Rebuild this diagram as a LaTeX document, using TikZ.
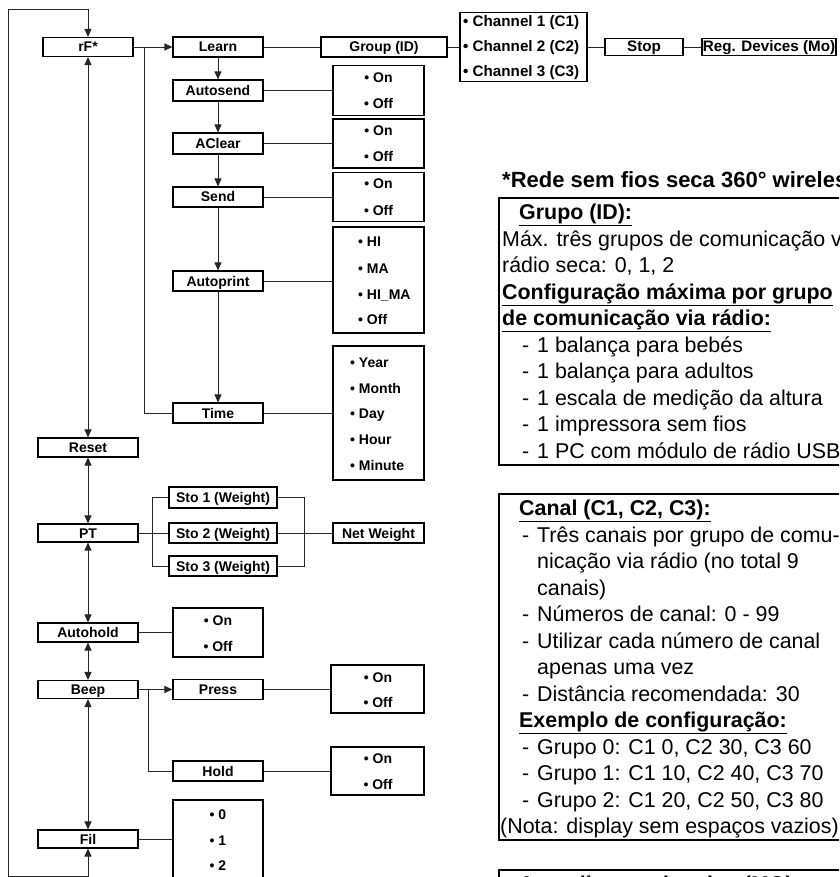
\documentclass[tikz,border=0pt]{standalone}
\usepackage{fontspec}
\setmainfont{Liberation Sans}
\usetikzlibrary{arrows.meta}
\tikzset{
  lbl/.style={font=\fontsize{14}{16}\selectfont\bfseries},
  lblb/.style={font=\fontsize{15.2}{17}\selectfont\bfseries},
  box/.style={draw, line width=1.1pt, inner sep=0pt, lbl, text height=10pt, text depth=0pt},
  optbox/.style={draw, line width=1.1pt, inner sep=0pt},
  opt/.style={lbl, inner sep=0pt, text height=10pt, text depth=0pt},
  optl/.style={opt, anchor=west},
  conn/.style={line width=0.9pt, black!85},
  arr/.style={conn, -{Triangle[length=8pt,width=7pt]}},
  darr/.style={conn, {Triangle[length=8pt,width=7pt]}-{Triangle[length=8pt,width=7pt]}},
  rt/.style={anchor=base west, inner sep=0pt, font=\fontsize{21.4}{25}\selectfont},
  rth/.style={rt, font=\fontsize{21.4}{25}\selectfont\bfseries},
  panel/.style={draw, line width=2pt}
}
\begin{document}
\begin{tikzpicture}[x=1pt, y=-1pt]
\path[use as bounding box] (0,0) rectangle (839,877);
\clip (0,0) rectangle (839,877);

% ---- top row ----
\node[box, minimum width=90pt, minimum height=19pt] (rf) at (88,47) {rF*};
\node[box, minimum width=90pt, minimum height=20pt] (learn) at (218,47) {Learn};
\node[box, minimum width=126pt, minimum height=20pt] (group) at (384,47) {Group (ID)};
\node[optbox, minimum width=127pt, minimum height=69pt] (chan) at (523.5,47) {};
\node[optl, lblb] (c1) at (463,22) {• Channel 1 (C1)};
\node[optl, lblb] (c2) at (463,47) {• Channel 2 (C2)};
\node[optl, lblb] (c3) at (463,72) {• Channel 3 (C3)};
\node[box, lblb, minimum width=78pt, minimum height=17pt] (stop) at (644,47) {Stop};
\node[box, lblb, minimum width=134pt, minimum height=17pt] (reg) at (769,47) {Reg. Devices (Mo)};

% ---- rF sub menu ----
\node[box, minimum width=90pt, minimum height=21pt] (autosend) at (218,90.5) {Autosend};
\node[box, minimum width=90pt, minimum height=21pt] (aclear) at (218,143.5) {AClear};
\node[box, minimum width=90pt, minimum height=20pt] (send) at (218,197) {Send};
\node[box, minimum width=90pt, minimum height=20pt] (autoprint) at (218,281) {Autoprint};
\node[box, minimum width=90pt, minimum height=20pt] (time) at (218,413) {Time};

\node[optbox, minimum width=91pt, minimum height=50pt] (oas) at (378.5,90.5) {};
\node[opt] (oas1) at (378.5,78) {• On};
\node[opt] (oas2) at (378.5,104) {• Off};
\node[optbox, minimum width=91pt, minimum height=49pt] (oac) at (378.5,143.5) {};
\node[opt] (oac1) at (378.5,131) {• On};
\node[opt] (oac2) at (378.5,157) {• Off};
\node[optbox, minimum width=91pt, minimum height=49pt] (ose) at (378.5,197) {};
\node[opt] (ose1) at (378.5,184) {• On};
\node[opt] (ose2) at (378.5,210) {• Off};
\node[optbox, minimum width=91pt, minimum height=106pt] (oap) at (378.5,280) {};
\node[optl] (oap1) at (358,242) {• HI};
\node[optl] (oap2) at (358,268) {• MA};
\node[optl] (oap3) at (358,294) {• HI\_MA};
\node[optl] (oap4) at (358,319) {• Off};
\node[optbox, minimum width=91pt, minimum height=134pt] (oti) at (378.5,413) {};
\node[optl] (oti1) at (350,362) {• Year};
\node[optl] (oti2) at (350,388) {• Month};
\node[optl] (oti3) at (350,413) {• Day};
\node[optl] (oti4) at (350,439) {• Hour};
\node[optl] (oti5) at (350,465) {• Minute};

% ---- main column ----
\node[box, minimum width=100pt, minimum height=19pt] (reset) at (88,447.5) {Reset};
\node[box, minimum width=100pt, minimum height=18pt] (pt) at (88,533) {PT};
\node[box, minimum width=100pt, minimum height=19pt] (autohold) at (88,632.5) {Autohold};
\node[box, minimum width=100pt, minimum height=18pt] (beep) at (88,689.5) {Beep};
\node[box, minimum width=100pt, minimum height=18pt] (fil) at (88,839) {Fil};

% PT
\node[box, minimum width=108pt, minimum height=21pt] (sto1) at (223,497.5) {Sto 1 (Weight)};
\node[box, minimum width=108pt, minimum height=20pt] (sto2) at (223,533) {Sto 2 (Weight)};
\node[box, minimum width=108pt, minimum height=20pt] (sto3) at (223,566) {Sto 3 (Weight)};
\node[box, minimum width=91pt, minimum height=20pt] (net) at (378.5,533) {Net Weight};

% Autohold
\node[optbox, minimum width=90pt, minimum height=49pt] (oah) at (218,632.5) {};
\node[opt] (oah1) at (218,620) {• On};
\node[opt] (oah2) at (218,646) {• Off};

% Beep
\node[box, minimum width=90pt, minimum height=20pt] (press) at (218,689.5) {Press};
\node[box, minimum width=90pt, minimum height=20pt] (hold) at (218,771) {Hold};
\node[optbox, minimum width=93pt, minimum height=48pt] (opr) at (377.5,689) {};
\node[opt] (opr1) at (378,677) {• On};
\node[opt] (opr2) at (378,702) {• Off};
\node[optbox, minimum width=93pt, minimum height=48pt] (oho) at (377.5,771) {};
\node[opt] (oho1) at (378,758) {• On};
\node[opt] (oho2) at (378,784) {• Off};

% Fil
\node[optbox, minimum width=90pt, minimum height=100pt] (ofi) at (218,850) {};
\node[opt] (ofi1) at (218,814) {• 0};
\node[opt] (ofi2) at (218,840) {• 1};
\node[opt] (ofi3) at (218,865) {• 2};

% ---- connectors ----
\coordinate (lt) at (8.5,9.5);
\coordinate (lb) at (8.5,876);
\coordinate (b1) at (144,47);
\coordinate (b2) at (148,689.5);
\draw[arr] (lt) -| (rf.north);
\draw[arr] (lt) -- (lb) -| (fil.south);
\draw[darr] (rf.south) -- (reset.north);
\draw[darr] (reset.south) -- (pt.north);
\draw[darr] (pt.south) -- (autohold.north);
\draw[darr] (autohold.south) -- (beep.north);
\draw[darr] (beep.south) -- (fil.north);

\draw[arr] (rf.east) -- (learn.west);
\draw[conn] (b1) |- (time.west);
\draw[conn] (learn.east) -- (group.west);
\draw[conn] (group.east) -- (chan.west);
\draw[conn] (chan.east) -- (stop.west);
\draw[conn] (stop.east) -- (reg.west);

\draw[arr] (learn.south) -- (autosend.north);
\draw[arr] (autosend.south) -- (aclear.north);
\draw[arr] (aclear.south) -- (send.north);
\draw[arr] (send.south) -- (autoprint.north);
\draw[arr] (autoprint.south) -- (time.north);

\draw[conn] (autosend.east) -- (autosend.east -| oas.west);
\draw[conn] (aclear.east) -- (aclear.east -| oac.west);
\draw[conn] (send.east) -- (send.east -| ose.west);
\draw[conn] (autoprint.east) -- (autoprint.east -| oap.west);
\draw[conn] (time.east) -- (time.east -| oti.west);

\draw[conn] (pt.east) -- (sto2.west);
\draw[conn] (sto1.west) -- ++(-16,0) |- (sto3.west);
\draw[conn] (sto1.east) -- ++(27,0) |- (sto3.east);
\draw[conn] (sto2.east) -- (net.west);

\draw[conn] (autohold.east) -- (autohold.east -| oah.west);
\draw[arr] (beep.east) -- (press.west);
\draw[conn] (b2) |- (hold.west);
\draw[conn] (press.east) -- (press.east -| opr.west);
\draw[conn] (hold.east) -- (hold.east -| oho.west);
\draw[conn] (fil.east) -- (fil.east -| ofi.west);

% ---- right panel ----
\node[rth, font=\fontsize{22}{25}\selectfont\bfseries] (title) at (502,187.5) {*Rede sem fios seca 360° wireless};

\draw[panel] (499,198) rectangle (900,465);
\node[rth] (g1) at (519,219.5) {\underline{Grupo (ID):}};
\node[rt] (g2) at (502,246) {Máx. três grupos de comunicação via};
\node[rt] (g3) at (502,272.5) {rádio seca: 0, 1, 2};
\node[rth] (g4) at (502,299) {\underline{Configuração máxima por grupo}};
\node[rth] (g5) at (502,325.5) {\underline{de comunicação via rádio:}};
\node[rt] (g6d) at (522,352) {-};
\node[rt] (g6) at (537,352) {1 balança para bebés};
\node[rt] (g7d) at (522,378.5) {-};
\node[rt] (g7) at (537,378.5) {1 balança para adultos};
\node[rt] (g8d) at (522,405) {-};
\node[rt] (g8) at (537,405) {1 escala de medição da altura};
\node[rt] (g9d) at (522,431.5) {-};
\node[rt] (g9) at (537,431.5) {1 impressora sem fios};
\node[rt] (g10d) at (522,458) {-};
\node[rt] (g10) at (537,458) {1 PC com módulo de rádio USB};

\draw[panel] (499,494) rectangle (900,840);
\node[rth] (k1) at (519,515.5) {\underline{Canal (C1, C2, C3):}};
\node[rt] (k2d) at (522,542) {-};
\node[rt] (k2) at (537,542) {Três canais por grupo de comu-};
\node[rt] (k3) at (537,568.5) {nicação via rádio (no total 9};
\node[rt] (k4) at (537,595) {canais)};
\node[rt] (k5d) at (522,621.5) {-};
\node[rt] (k5) at (537,621.5) {Números de canal: 0 - 99};
\node[rt] (k6d) at (522,648) {-};
\node[rt] (k6) at (537,648) {Utilizar cada número de canal};
\node[rt] (k7) at (537,674.5) {apenas uma vez};
\node[rt] (k8d) at (522,701) {-};
\node[rt] (k8) at (537,701) {Distância recomendada: 30};
\node[rth] (k9) at (519,727.5) {\underline{Exemplo de configuração:}};
\node[rt] (k10d) at (522,754) {-};
\node[rt] (k10) at (537,754) {Grupo 0: C1 0, C2 30, C3 60};
\node[rt] (k11d) at (522,780.5) {-};
\node[rt] (k11) at (537,780.5) {Grupo 1: C1 10, C2 40, C3 70};
\node[rt] (k12d) at (522,807) {-};
\node[rt] (k12) at (537,807) {Grupo 2: C1 20, C2 50, C3 80};
\node[rt] (k13) at (500,833.5) {(Nota: display sem espaços vazios)};

\draw[panel] (499,870) rectangle (900,950);
\node[rth] (m1) at (519,891) {\underline{Aparelhos registados (MO)}};
\end{tikzpicture}
\end{document}
